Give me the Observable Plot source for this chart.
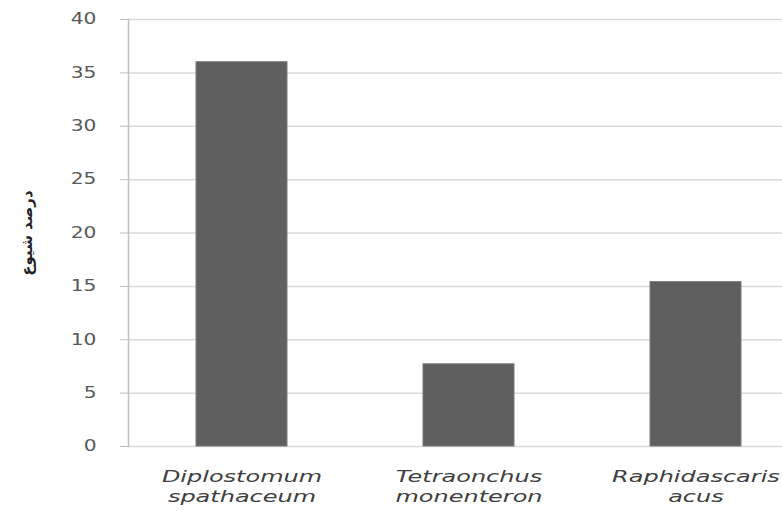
<!DOCTYPE html>
<html><head><meta charset="utf-8">
<script src="https://cdn.jsdelivr.net/npm/d3@7"></script>
<script src="https://cdn.jsdelivr.net/npm/@observablehq/plot@0.6"></script>
<style>body{margin:0;background:#fff;overflow:hidden}</style>
</head><body><div id="chart"></div>
<script>
const species = ["Diplostomum spathaceum", "Tetraonchus monenteron", "Raphidascaris acus"];
const labelLines = [["Diplostomum", "spathaceum"], ["Tetraonchus", "monenteron"], ["Raphidascaris", "acus"]];
const prevalence = [36, 7.7, 15.4];
const yTicks = [0, 5, 10, 15, 20, 25, 30, 35, 40];
const yLabel = "درصد شیوع";

const data = species.map((s, i) => ({species: s, value: prevalence[i]}));

const plot = Plot.plot({
  width: 782, height: 511,
  marginLeft: 128, marginRight: 0, marginTop: 19, marginBottom: 65,
  style: {fontFamily: "DejaVu Sans", fontSize: "15px", color: "#595959", background: "white"},
  x: {domain: species, range: [128, 809], paddingInner: 0.6, paddingOuter: 0.3, align: 0.5, label: null},
  y: {domain: [0, 40], label: null},
  marks: [
    Plot.gridY(yTicks, {stroke: "#d9d9d9", strokeOpacity: 1, strokeWidth: 1.5}),
    Plot.barY(data, {x: "species", y: "value", fill: "#5f5f5f", stroke: "#7a7a7a", strokeWidth: 1}),
    Plot.frame({anchor: "left", stroke: "#bfbfbf", strokeWidth: 1.5}),
    Plot.axisY(yTicks, {tickSize: 8, tickPadding: 24, stroke: "#bfbfbf", fill: "#595959", fontSize: 15, label: null}),
    Plot.axisX({tickSize: 0, tickPadding: 21, fontSize: 15, fontStyle: "italic", fill: "#404040", lineHeight: 1.35,
      tickFormat: d => labelLines[species.indexOf(d)].join("\n"), label: null}),
    Plot.text([yLabel], {frameAnchor: "left", textAnchor: "middle", rotate: -90, dx: -101, fontSize: 15, fontWeight: "bold", fill: "#222", fontFamily: "DejaVu Sans"})
  ]
});
document.getElementById("chart").append(plot);

// horizontally stretch tick labels to mimic the reference's wide lettering
const svgns = "http://www.w3.org/2000/svg";
function stretch(sel, s, anchor) {
  d3.select(plot).selectAll(sel).each(function() {
    const g = document.createElementNS(svgns, "g");
    this.parentNode.insertBefore(g, this);
    g.appendChild(this);
    const b = g.getBBox();
    const ax = anchor === "end" ? b.x + b.width : b.x + b.width / 2;
    g.setAttribute("transform", `translate(${ax},0) scale(${s},1) translate(${-ax},0)`);
  });
}
stretch("g[aria-label='y-axis tick label'] text", 1.35, "end");
stretch("g[aria-label='x-axis tick label'] text", 1.6, "middle");
</script>
</body></html>
